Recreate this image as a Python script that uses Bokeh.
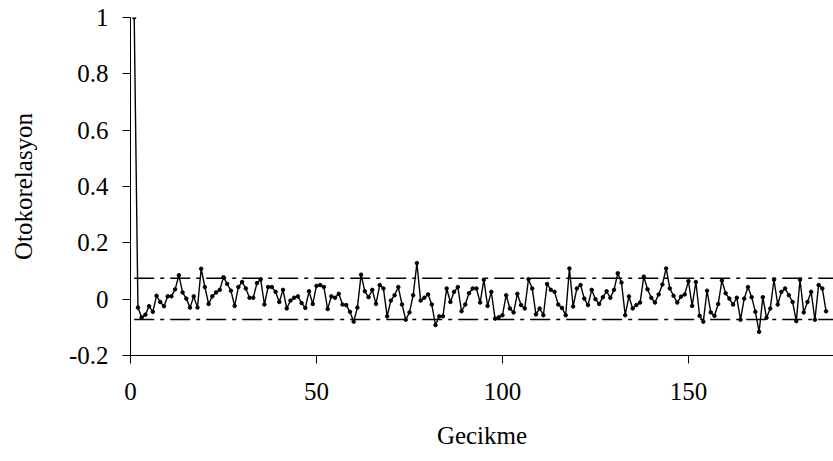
from bokeh.plotting import figure
from bokeh.models import Range1d, FixedTicker, ColumnDataSource
from bokeh.embed import file_html
from bokeh.resources import INLINE

lags = list(range(1, 188))
acf = [
    1.0, -0.03, -0.065, -0.055, -0.025, -0.045, 0.012, -0.01, -0.025, 0.01,
    0.01, 0.035, 0.085, 0.024, 0.002, -0.03, 0.01, -0.03, 0.108, 0.043,
    -0.017, 0.01, 0.024, 0.033, 0.078, 0.054, 0.03, -0.024, 0.043, 0.061,
    0.038, 0.005, 0.005, 0.057, 0.07, -0.019, 0.043, 0.043, 0.026, -0.01,
    0.033, -0.033, -0.005, 0.005, 0.01, -0.014, -0.031, 0.028, -0.017, 0.047,
    0.05, 0.043, -0.035, 0.01, 0.005, 0.019, -0.019, -0.021, -0.045, -0.08,
    -0.03, 0.087, 0.028, 0.007, 0.033, -0.017, 0.05, 0.038, -0.061, -0.005,
    0.014, 0.043, -0.019, -0.073, -0.047, 0.014, 0.128, -0.005, 0.005, 0.017,
    -0.019, -0.092, -0.061, -0.061, 0.038, -0.01, 0.026, 0.043, -0.043, -0.019,
    0.021, 0.038, 0.038, -0.012, 0.069, -0.024, 0.026, -0.069, -0.064, -0.057,
    0.014, -0.033, -0.047, 0.019, -0.021, -0.033, 0.071, 0.038, -0.054, -0.033,
    -0.057, 0.054, 0.033, 0.026, -0.019, -0.031, -0.057, 0.109, -0.026, 0.038,
    0.05, 0.002, -0.021, 0.033, 0.0, -0.017, 0.007, 0.028, 0.005, 0.033,
    0.092, 0.059, -0.057, 0.01, -0.033, -0.021, -0.012, 0.08, 0.035, 0.005,
    -0.012, 0.017, 0.052, 0.109, 0.038, 0.012, -0.012, 0.009, 0.017, 0.064,
    -0.024, 0.061, -0.059, -0.08, 0.03, -0.047, -0.059, -0.017, 0.066, 0.021,
    0.002, -0.019, 0.005, -0.073, 0.002, 0.043, 0.007, -0.045, -0.116, 0.007,
    -0.066, -0.033, 0.069, -0.019, 0.026, 0.038, 0.014, -0.01, -0.078, 0.069,
    -0.047, -0.01, 0.026, -0.073, 0.05, 0.038, -0.043,
]
band_upper = 0.074
band_lower = -0.072
band_x = [1, 189]

y_ticks = [-0.2, 0, 0.2, 0.4, 0.6, 0.8, 1]
y_labels = ["-0.2", "0", "0.2", "0.4", "0.6", "0.8", "1"]
x_ticks = [0, 50, 100, 150]
x_labels = ["0", "50", "100", "150"]

FONT = "Liberation Serif"
FS = "25px"

p = figure(width=833, height=461, output_backend="svg", toolbar_location=None,
           x_range=Range1d(0, 189), y_range=Range1d(-0.2, 1),
           min_border_left=130, min_border_right=0, min_border_top=17,
           min_border_bottom=106)
p.outline_line_color = None
p.grid.visible = False
p.background_fill_color = "white"
p.border_fill_color = "white"

src = ColumnDataSource(dict(x=lags, y=acf))
p.line("x", "y", source=src, line_color="black", line_width=1.4)
p.scatter("x", "y", source=src, size=3.5, color="black")

p.line(band_x, [band_upper, band_upper], line_color="black", line_width=1.6,
       line_dash="20 6 4 6")
p.line(band_x, [band_lower, band_lower], line_color="black", line_width=1.6,
       line_dash="20 6 4 6")

for ax in (p.xaxis[0], p.yaxis[0]):
    ax.axis_line_color = "black"
    ax.axis_line_width = 1
    ax.major_tick_line_color = "black"
    ax.major_tick_out = 8
    ax.major_tick_in = 0
    ax.minor_tick_line_color = None
    ax.major_label_text_font = FONT
    ax.major_label_text_font_size = FS
    ax.major_label_text_color = "black"
    ax.axis_label_text_font = FONT
    ax.axis_label_text_font_size = FS
    ax.axis_label_text_font_style = "normal"
    ax.axis_label_text_color = "black"

p.yaxis[0].ticker = FixedTicker(ticks=y_ticks)
p.yaxis[0].major_label_overrides = {t: l for t, l in zip(y_ticks, y_labels)}
p.yaxis[0].major_label_standoff = 14
p.yaxis[0].axis_label = "Otokorelasyon"
p.yaxis[0].axis_label_standoff = 29

p.xaxis[0].ticker = FixedTicker(ticks=x_ticks)
p.xaxis[0].major_label_overrides = {t: l for t, l in zip(x_ticks, x_labels)}
p.xaxis[0].major_label_standoff = 19
p.xaxis[0].axis_label = "Gecikme"
p.xaxis[0].axis_label_standoff = 19

open("out.html", "w").write(file_html(p, INLINE))
